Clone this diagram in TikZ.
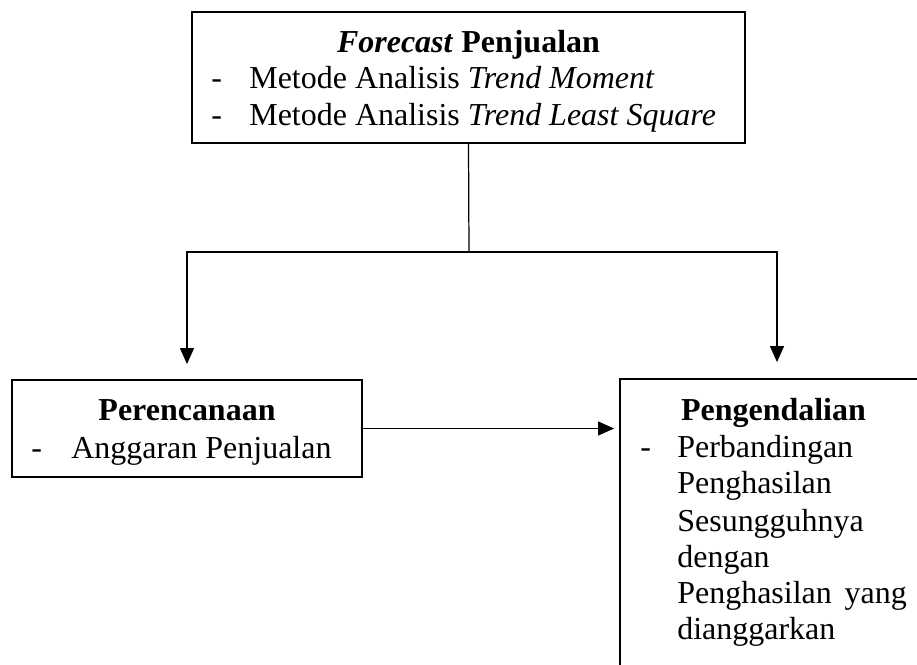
\documentclass[tikz,border=0pt]{standalone}
\usepackage{fontspec}
\setmainfont{Liberation Serif}
\usetikzlibrary{arrows.meta}

\begin{document}
\begin{tikzpicture}[x=0.02cm,y=-0.02cm,
        box/.style={draw,line width=1.1pt,minimum width=#1,inner sep=0pt},
        txt/.style={anchor=base west,inner sep=0pt,font=\fontsize{18.2}{21}\selectfont},
        head/.style={anchor=base,inner sep=0pt,font=\fontsize{18.2}{21}\selectfont\bfseries},
        flow/.style={line width=0.7pt,-{Triangle[width=0.28cm,length=0.32cm]}}]
        \useasboundingbox (0,0) rectangle (917,664);
        \clip (0,0) rectangle (917,664);
        % boxes
        \node[box=11.06cm,minimum height=2.62cm] (forecast) at (468.5,77.5) {};
        \node[box=7cm,minimum height=1.94cm] (perencanaan) at (187,428.5) {};
        \node[box=6.28cm,minimum height=6.8cm] (pengendalian) at (777,549) {};
        % top box text
        \node[head] (fcTitle) at (468.5,52) {\textit{Forecast} Penjualan};
        \node[txt] (fcDashA) at (211,88) {-};
        \node[txt] (fcItemA) at (249,88) {Metode Analisis \textit{Trend Moment}};
        \node[txt] (fcDashB) at (211,125) {-};
        \node[txt] (fcItemB) at (249,125) {Metode Analisis \textit{Trend Least Square}};
        % left box text
        \node[head] (pcTitle) at (187,420) {Perencanaan};
        \node[txt] (pcDash) at (31,458) {-};
        \node[txt] (pcItem) at (71,458) {Anggaran Penjualan};
        % right box text
        \node[head] (pgTitle) at (773.5,420) {Pengendalian};
        \node[txt] (pgDash) at (640,457) {-};
        \node[txt] (pgLineA) at (677,457) {Perbandingan};
        \node[txt] (pgLineB) at (677,493) {Penghasilan};
        \node[txt] (pgLineC) at (677,531) {Sesungguhnya};
        \node[txt] (pgLineD) at (677,567) {dengan};
        \node[txt] (pgLineE) at (677,603) {Penghasilan\hspace{0.4em}yang};
        \node[txt] (pgLineF) at (677,639) {dianggarkan};
        % connectors
        \coordinate (split) at (469,252);
        \draw[line width=0.7pt] (forecast.south) -- (split);
        \draw[flow,shorten >=0.3cm] (split) -| (perencanaan.north);
        \draw[flow,shorten >=0.32cm] (split) -| (pengendalian.north);
        \draw[flow,shorten >=0.1cm] (perencanaan.east) -- (perencanaan.east -| pengendalian.west);
\end{tikzpicture}
\end{document}
